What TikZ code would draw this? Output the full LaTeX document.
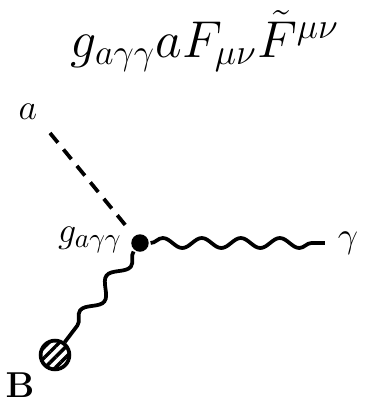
\documentclass[tikz,border=0pt]{standalone}
\usetikzlibrary{decorations.pathmorphing,patterns.meta}
\begin{document}
\begin{tikzpicture}[
every node/.style={font=\fontsize{15}{18}\selectfont},
x=0.4pt,
y=-0.4pt,
line width=1.5pt,
photon/.style={decorate,decoration={snake,segment length=15.6pt,amplitude=2pt}}
]
\useasboundingbox (0,0) rectangle (368,402);

% coupling
\node[font=\fontsize{22.5}{27}\selectfont] (lag) at (205,41) {$g_{a\gamma\gamma} a F_{\mu\nu}\tilde{F}^{\mu\nu}$};

% vertex and external legs
\node[circle,fill,inner sep=0pt,minimum size=7pt] (v) at (140,243) {};
\coordinate (aend) at (50,133);
\coordinate (gend) at (325,243);
\node[circle,draw,inner sep=0pt,minimum size=11.5pt,
  pattern={Lines[angle=45,distance=3pt,line width=1.4pt]}] (blob) at (55,355) {};

% labels
\node (la) at (28,112) {$a$};
\node (lg) at (348,243) {$\gamma$};
\node (lc) at (90,240) {$g_{a\gamma\gamma}$};
\node (lb) at (20,385) {$\mathbf{B}$};

% lines
\draw[dash pattern=on 5pt off 3.5pt,shorten >=2pt] (aend) -- (v);
\draw[photon] (v) -- (gend);
\draw[photon,decoration={segment length=17.5pt,amplitude=2.8pt}] (v) -- (blob);

\end{tikzpicture}
\end{document}
